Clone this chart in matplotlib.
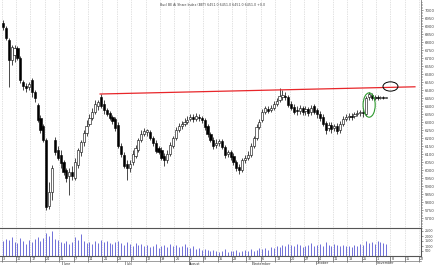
import numpy as np
import pandas as pd
import matplotlib
matplotlib.use('Agg')
import matplotlib.pyplot as plt
import matplotlib.transforms as mtransforms
from matplotlib.patches import Ellipse
from matplotlib.lines import Line2D

# daily candles, starting on monday 3 may
start_day = '2010-05-03'
opens = [6919, 6887, 6812, 6687, 6719, 6762, 6700, 6550, 6525, 6519,
         6562, 6487, 6406, 6325, 6275, 6187, 5775, 5862, 6187, 6125,
         6094, 6050, 6000, 5962, 5987, 5950, 6031, 6112, 6175, 6231,
         6287, 6325, 6362, 6400, 6456, 6412, 6375, 6356, 6331, 6319,
         6281, 6150, 6094, 6037, 6012, 6050, 6087, 6125, 6187, 6225,
         6237, 6237, 6200, 6169, 6137, 6125, 6087, 6062, 6100, 6150,
         6200, 6250, 6275, 6287, 6300, 6319, 6331, 6319, 6331, 6325,
         6312, 6275, 6225, 6187, 6156, 6169, 6181, 6144, 6100, 6112,
         6087, 6050, 6019, 6000, 6062, 6075, 6094, 6150, 6200, 6269,
         6312, 6362, 6381, 6375, 6387, 6412, 6437, 6456, 6462, 6456,
         6412, 6394, 6375, 6369, 6387, 6369, 6381, 6362, 6400, 6375,
         6350, 6331, 6294, 6262, 6281, 6262, 6275, 6250, 6287, 6319,
         6331, 6337, 6337, 6350, 6356, 6362, 6350, 6456, 6469, 6450,
         6456, 6450, 6456, 6450]
highs = [6937, 6900, 6825, 6781, 6781, 6775, 6712, 6562, 6544, 6550,
         6575, 6500, 6419, 6344, 6287, 6200, 5925, 6031, 6206, 6150,
         6125, 6062, 6012, 6012, 6025, 6075, 6137, 6187, 6250, 6312,
         6350, 6387, 6437, 6437, 6475, 6437, 6387, 6369, 6344, 6331,
         6300, 6169, 6112, 6062, 6062, 6125, 6156, 6200, 6250, 6262,
         6256, 6250, 6212, 6187, 6150, 6144, 6106, 6125, 6175, 6212,
         6269, 6294, 6306, 6325, 6337, 6350, 6350, 6356, 6350, 6337,
         6325, 6287, 6237, 6206, 6194, 6194, 6194, 6156, 6125, 6125,
         6106, 6062, 6037, 6075, 6094, 6119, 6169, 6212, 6287, 6319,
         6381, 6400, 6400, 6406, 6431, 6450, 6512, 6500, 6487, 6469,
         6431, 6412, 6400, 6406, 6400, 6400, 6394, 6406, 6412, 6387,
         6369, 6350, 6306, 6300, 6300, 6287, 6294, 6306, 6337, 6350,
         6356, 6356, 6362, 6375, 6375, 6381, 6462, 6487, 6481, 6469,
         6469, 6462, 6462, 6456]
lows = [6875, 6812, 6519, 6656, 6675, 6687, 6544, 6500, 6487, 6500,
        6456, 6425, 6300, 6231, 6175, 5750, 5756, 5812, 6094, 6062,
        6012, 5969, 5925, 5844, 5937, 5937, 6012, 6087, 6150, 6212,
        6275, 6312, 6350, 6375, 6387, 6350, 6337, 6312, 6287, 6244,
        6137, 6081, 6012, 5937, 5987, 6031, 6075, 6112, 6175, 6212,
        6212, 6187, 6150, 6106, 6100, 6062, 6025, 6044, 6087, 6137,
        6187, 6237, 6256, 6275, 6287, 6306, 6300, 6306, 6306, 6294,
        6250, 6206, 6175, 6131, 6137, 6150, 6131, 6075, 6081, 6062,
        6031, 5994, 5975, 5987, 6044, 6062, 6081, 6137, 6187, 6256,
        6300, 6350, 6356, 6362, 6375, 6400, 6425, 6437, 6437, 6394,
        6375, 6350, 6344, 6350, 6344, 6344, 6337, 6344, 6350, 6325,
        6306, 6275, 6225, 6244, 6231, 6244, 6225, 6231, 6275, 6306,
        6312, 6312, 6325, 6337, 6337, 6331, 6337, 6437, 6437, 6437,
        6437, 6444, 6444, 6450]
closes = [6894, 6825, 6687, 6769, 6762, 6700, 6562, 6525, 6512, 6537,
          6487, 6450, 6312, 6250, 6187, 5769, 5862, 6012, 6112, 6075,
          6044, 5987, 5950, 5987, 5962, 6050, 6125, 6175, 6231, 6275,
          6325, 6362, 6412, 6425, 6400, 6375, 6350, 6325, 6306, 6262,
          6150, 6100, 6025, 6012, 6037, 6100, 6137, 6187, 6225, 6244,
          6250, 6200, 6169, 6119, 6112, 6075, 6062, 6100, 6156, 6200,
          6250, 6275, 6287, 6300, 6312, 6331, 6319, 6337, 6325, 6312,
          6269, 6225, 6187, 6150, 6169, 6181, 6144, 6094, 6112, 6081,
          6050, 6012, 6000, 6062, 6075, 6094, 6150, 6200, 6269, 6300,
          6362, 6387, 6369, 6387, 6412, 6431, 6462, 6469, 6456, 6406,
          6387, 6362, 6369, 6387, 6362, 6381, 6356, 6387, 6362, 6350,
          6325, 6287, 6250, 6281, 6256, 6275, 6244, 6287, 6319, 6331,
          6337, 6331, 6350, 6356, 6362, 6356, 6450, 6475, 6450, 6456,
          6450, 6456, 6450, 6451]
volumes = [1500, 1700, 1600, 1900, 1400, 1300, 1800, 1500, 1200, 1600,
           1400, 1700, 1900, 1500, 1800, 2300, 2000, 2500, 1700, 1600,
           1400, 1300, 1500, 1200, 1400, 1900, 1600, 2200, 1500, 1300,
           1400, 1200, 1500, 1300, 1600, 1400, 1500, 1300, 1200, 1400,
           1500, 1300, 1100, 1400, 1200, 1000, 1300, 1100, 1200, 1000,
           1100, 900, 1000, 1200, 800, 1000, 1100, 900, 1200, 1000,
           1100, 900, 1000, 1200, 900, 800, 1000, 700, 800, 600,
           700, 600, 500, 600, 500, 400, 500, 700, 400, 500,
           500, 600, 400, 500, 600, 500, 700, 500, 600, 800,
           700, 800, 600, 900, 800, 1000, 900, 1100, 1000, 1200,
           1100, 1000, 1200, 1100, 900, 1000, 1100, 1300, 1000, 1100,
           1200, 1000, 1400, 1100, 1000, 1200, 1100, 1000, 1100, 1000,
           1000, 900, 1100, 1000, 1200, 1100, 1500, 1300, 1400, 1200,
           1500, 1400, 1300, 1200]

# resistance line (bar index, price), and the two marks on the chart
resistance = ([33.7, 143.0], [6475, 6520])
breakout_mark = (127.1, 6406)
target_mark = (134.5, 6522)

title_text = 'Bucl BE Ai Share Index (BET) 6451.0 6451.0 6451.0 6451.0 +0.0'
price_ticks = np.arange(5700, 7001, 50)
volume_ticks = [500, 1000, 1500, 2000, 2500]

W, H = 435, 265
fig = plt.figure(figsize=(W / 100, H / 100), dpi=100)
ax = fig.add_axes([0, 1 - 228 / H, 421 / W, 228 / H])
axv = fig.add_axes([0, 1 - 256 / H, 421 / W, 28 / H], sharex=ax)

days = pd.bdate_range(start_day, periods=146)
idx = np.arange(len(closes))
o = np.array(opens)
c = np.array(closes)

# grid: one dotted line per week
mondays = [i for i, d in enumerate(days) if d.weekday() == 0]
for a in (ax, axv):
    for m in mondays:
        a.axvline(m - 0.5, color='#c4c4c4', lw=0.5, ls=(0, (1, 1.5)), zorder=0)

# candles
ax.vlines(idx, lows, highs, color='black', lw=0.5, zorder=2)
body = np.maximum(np.abs(c - o), 4)
ax.bar(idx, body, bottom=np.minimum(o, c), width=0.75,
       color=np.where(c >= o, 'white', 'black'), edgecolor='black',
       linewidth=0.4, zorder=3)

ax.plot(resistance[0], resistance[1], color='#e8262a', lw=0.9, zorder=4)
ax.add_patch(Ellipse(breakout_mark, 4.2, 152, fill=False, ec='#2f9a2f', lw=0.8, zorder=5))
ax.add_patch(Ellipse(target_mark, 5.2, 58, fill=False, ec='black', lw=0.7, zorder=5))

ax.set_xlim(-1.05, 145.1)
ax.set_ylim(5637.5, 7062.5)
ax.yaxis.tick_right()
ax.set_yticks(price_ticks)
ax.set_yticks(np.arange(5640, 7060, 10), minor=True)
ax.tick_params(axis='y', which='both', labelsize=2.8, length=1.5, width=0.4,
               pad=1.5, colors='#444444')
ax.tick_params(axis='y', which='minor', length=0.8)
ax.tick_params(axis='x', bottom=False, labelbottom=False)
for s in ('top', 'left', 'bottom'):
    ax.spines[s].set_visible(False)
ax.spines['right'].set_color('#777777')
ax.spines['right'].set_linewidth(0.6)

# volume panel
axv.vlines(idx, 0, volumes, color='#6f6fd8', lw=0.7)
axv.set_ylim(0, 2800)
axv.yaxis.tick_right()
axv.set_yticks(volume_ticks)
axv.tick_params(axis='y', labelsize=2.4, length=1.2, width=0.4, pad=1.5,
                colors='#444444')
axv.set_xticks([m - 0.5 for m in mondays])
axv.tick_params(axis='x', labelbottom=False, length=4.5, width=0.5,
                colors='#555555', direction='out')
axv.spines['left'].set_visible(False)
for s in ('top', 'right', 'bottom'):
    axv.spines[s].set_color('#555555')
    axv.spines[s].set_linewidth(0.8)

# day numbers and months under the chart
trans = mtransforms.blended_transform_factory(axv.transData, fig.transFigure)
for m in mondays:
    axv.text(m - 0.2, 1 - 258.5 / H, str(days[m].day), transform=trans,
             fontsize=2.4, va='center', ha='left', color='#333333', clip_on=False)
fig.add_artist(Line2D([0, 421 / W], [1 - 261 / H] * 2, color='#777777', lw=0.5))
prev = None
for i, d in enumerate(days):
    if prev is not None and d.month != prev:
        axv.text(i - 0.3, 1 - 263.5 / H, d.strftime('%B'), transform=trans,
                 fontsize=2.4, va='center', ha='left', color='#333333', clip_on=False)
        fig.add_artist(Line2D([axv.transData.transform((i - 0.5, 0))[0] / W] * 2,
                              [1 - 265 / H, 1 - 261 / H], color='#777777', lw=0.5))
    prev = d.month

fig.text(213 / W, 1 - 5 / H, title_text, fontsize=2.3, ha='center', va='center',
         color='#444444')

fig.savefig('out.png', dpi=100)
